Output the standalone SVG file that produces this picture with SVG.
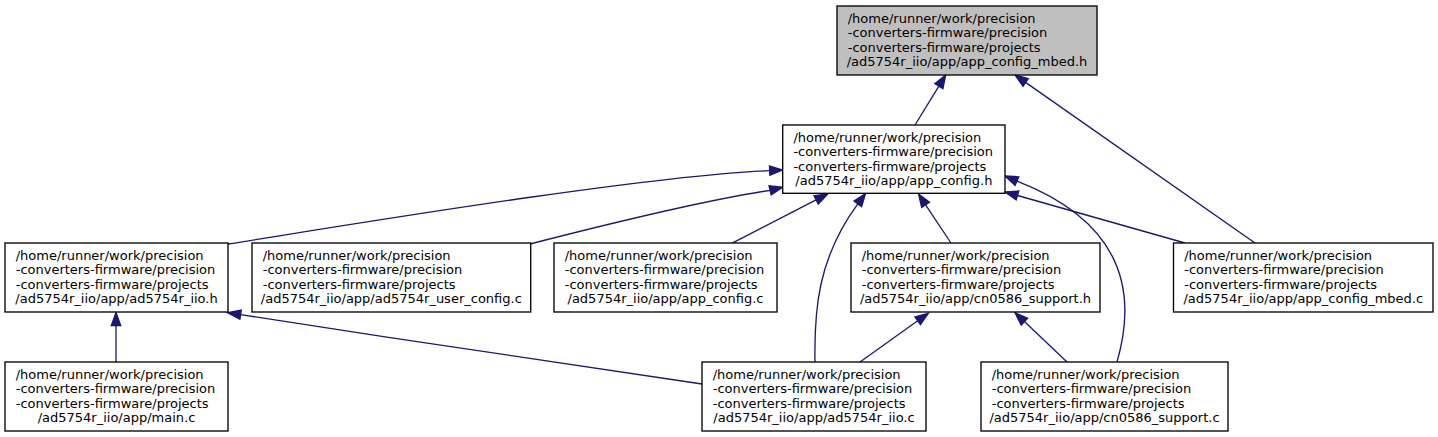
<svg xmlns="http://www.w3.org/2000/svg" width="1438" height="437" viewBox="0 0 1438 437">
<style>
.n{fill:#ffffff;stroke:#000000;stroke-width:1.33}
.root{fill:#bfbfbf;stroke:#000000;stroke-width:1.33}
text{font-family:"DejaVu Sans",sans-serif;font-size:13px;fill:#000000}
.c{text-anchor:middle}
.e{fill:none;stroke:#191970;stroke-width:1.33}
.h{fill:#191970;stroke:#191970;stroke-width:1.33}
</style>
<rect width="1438" height="437" fill="#ffffff"/>
<g id="connectors">
<path class="e" d="M915,125 L938.9,86.1"/>
<polygon class="h" points="945.7,75 942.9,88.6 934.9,83.6"/>
<path class="e" d="M1255,243 L1025.6,82.4"/>
<polygon class="h" points="1015,75 1028.3,78.6 1023,86.3"/>
<path class="e" d="M228,244 C330,228 640,176 769.7,170.6"/>
<polygon class="h" points="782.7,170 769.9,175.3 769.5,165.9"/>
<path class="e" d="M530,244 C600,226 700,201 770.1,190.3"/>
<polygon class="h" points="782.7,187.3 771.2,194.9 769,185.7"/>
<path class="e" d="M731.7,243.3 L816.1,199.9"/>
<polygon class="h" points="827.7,194 818.3,204.1 814,195.8"/>
<path class="e" d="M815,362 C814,310 818,258 857.8,203.9"/>
<polygon class="h" points="865.5,193.5 861.6,206.7 854,201.1"/>
<path class="e" d="M951,243 L925.6,204.9"/>
<polygon class="h" points="918.5,194 929.5,202.3 921.7,207.5"/>
<path class="e" d="M1117,362 C1135,300 1130,225 1017,181.1"/>
<polygon class="h" points="1005,176 1018.8,176.8 1015.1,185.4"/>
<path class="e" d="M1185,243 L1017.5,195.5"/>
<polygon class="h" points="1005,192 1018.8,191 1016.2,200"/>
<path class="e" d="M702,384 C600,368 400,340 240.6,314.6"/>
<polygon class="h" points="227.7,312.7 241.3,310 239.9,319.3"/>
<path class="e" d="M116,362 L116,325.5"/>
<polygon class="h" points="116,312.5 120.7,325.5 111.3,325.5"/>
<path class="e" d="M860,362 L917.7,320.8"/>
<polygon class="h" points="928.3,313.3 920.4,324.6 915,317"/>
<path class="e" d="M1067,362 L1024.4,321.6"/>
<polygon class="h" points="1015,312.7 1027.6,318.2 1021.2,325"/>
</g>
<g id="node_app_config_mbed_h">
<rect class="root" x="837" y="6" width="260" height="69"/>
<text x="847.7" y="22.5">/home/runner/work/precision</text>
<text x="847.7" y="37">-converters-firmware/precision</text>
<text x="847.7" y="51.5">-converters-firmware/projects</text>
<text class="c" x="967" y="66">/ad5754r_iio/app/app_config_mbed.h</text>
</g>
<g id="node_app_config_h">
<rect class="n" x="782.7" y="125" width="222.3" height="68.3"/>
<text x="793.4" y="141.5">/home/runner/work/precision</text>
<text x="793.4" y="156">-converters-firmware/precision</text>
<text x="793.4" y="170.5">-converters-firmware/projects</text>
<text class="c" x="893.9" y="185">/ad5754r_iio/app/app_config.h</text>
</g>
<g id="node_ad5754r_iio_h">
<rect class="n" x="5" y="243" width="223" height="69"/>
<text x="15.7" y="259.5">/home/runner/work/precision</text>
<text x="15.7" y="274">-converters-firmware/precision</text>
<text x="15.7" y="288.5">-converters-firmware/projects</text>
<text class="c" x="116.5" y="303">/ad5754r_iio/app/ad5754r_iio.h</text>
</g>
<g id="node_ad5754r_user_config_c">
<rect class="n" x="252" y="243" width="278.7" height="69"/>
<text x="262.7" y="259.5">/home/runner/work/precision</text>
<text x="262.7" y="274">-converters-firmware/precision</text>
<text x="262.7" y="288.5">-converters-firmware/projects</text>
<text class="c" x="391.3" y="303">/ad5754r_iio/app/ad5754r_user_config.c</text>
</g>
<g id="node_app_config_c">
<rect class="n" x="554" y="243" width="223" height="69"/>
<text x="564.7" y="259.5">/home/runner/work/precision</text>
<text x="564.7" y="274">-converters-firmware/precision</text>
<text x="564.7" y="288.5">-converters-firmware/projects</text>
<text class="c" x="665.5" y="303">/ad5754r_iio/app/app_config.c</text>
</g>
<g id="node_cn0586_support_h">
<rect class="n" x="851" y="243" width="249" height="69"/>
<text x="861.7" y="259.5">/home/runner/work/precision</text>
<text x="861.7" y="274">-converters-firmware/precision</text>
<text x="861.7" y="288.5">-converters-firmware/projects</text>
<text class="c" x="975.5" y="303">/ad5754r_iio/app/cn0586_support.h</text>
</g>
<g id="node_app_config_mbed_c">
<rect class="n" x="1173.5" y="243" width="259.5" height="69"/>
<text x="1184.2" y="259.5">/home/runner/work/precision</text>
<text x="1184.2" y="274">-converters-firmware/precision</text>
<text x="1184.2" y="288.5">-converters-firmware/projects</text>
<text class="c" x="1303.3" y="303">/ad5754r_iio/app/app_config_mbed.c</text>
</g>
<g id="node_main_c">
<rect class="n" x="5" y="362" width="223" height="69"/>
<text x="15.7" y="378.5">/home/runner/work/precision</text>
<text x="15.7" y="393">-converters-firmware/precision</text>
<text x="15.7" y="407.5">-converters-firmware/projects</text>
<text class="c" x="116.5" y="422">/ad5754r_iio/app/main.c</text>
</g>
<g id="node_ad5754r_iio_c">
<rect class="n" x="702" y="362" width="224" height="69"/>
<text x="712.7" y="378.5">/home/runner/work/precision</text>
<text x="712.7" y="393">-converters-firmware/precision</text>
<text x="712.7" y="407.5">-converters-firmware/projects</text>
<text class="c" x="814" y="422">/ad5754r_iio/app/ad5754r_iio.c</text>
</g>
<g id="node_cn0586_support_c">
<rect class="n" x="981" y="362" width="247" height="69"/>
<text x="991.7" y="378.5">/home/runner/work/precision</text>
<text x="991.7" y="393">-converters-firmware/precision</text>
<text x="991.7" y="407.5">-converters-firmware/projects</text>
<text class="c" x="1104.5" y="422">/ad5754r_iio/app/cn0586_support.c</text>
</g>
</svg>
